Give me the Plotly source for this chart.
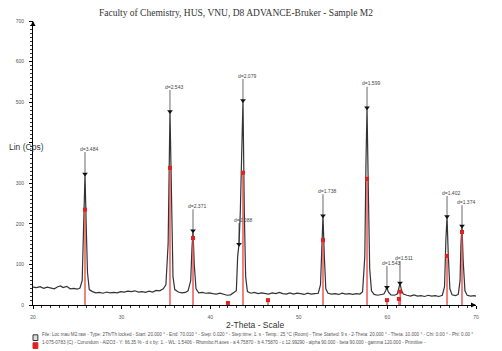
import plotly.graph_objects as go

# ---------------- data ----------------
two_theta = [20.0, 20.4, 20.8, 21.2, 21.6, 22.0, 22.4, 22.8, 23.1, 23.4, 23.8, 24.2, 24.6, 25.0, 25.3,
             25.55, 25.72, 25.87, 26.0, 26.15, 26.35, 26.7, 27.1, 27.5, 27.9, 28.3, 28.7, 29.1, 29.5, 29.9,
             30.3, 30.7, 31.1, 31.5, 31.9, 32.3, 32.7, 33.1, 33.5, 33.9, 34.3, 34.7, 35.0, 35.25, 35.46,
             35.62, 35.8, 36.0, 36.4, 36.8, 37.2, 37.5, 37.8, 37.94, 38.06, 38.2, 38.4, 38.7, 39.1, 39.5,
             39.9, 40.3, 40.7, 41.1, 41.5, 41.9, 42.3, 42.7, 42.95, 43.1, 43.25, 43.4, 43.55, 43.70, 43.85,
             44.0, 44.2, 44.6, 45.0, 45.4, 45.8, 46.2, 46.6, 47.0, 47.4, 47.8, 48.2, 48.6, 49.0, 49.4,
             49.8, 50.2, 50.6, 51.0, 51.4, 51.8, 52.2, 52.45, 52.6, 52.73, 52.88, 53.05, 53.3, 53.7, 54.1,
             54.5, 54.9, 55.3, 55.7, 56.1, 56.5, 56.9, 57.2, 57.45, 57.58, 57.70, 57.85, 58.0, 58.2, 58.5,
             58.9, 59.3, 59.6, 59.8, 59.95, 60.1, 60.4, 60.8, 61.1, 61.28, 61.42, 61.6, 61.8, 62.2, 62.6,
             63.0, 63.4, 63.8, 64.2, 64.6, 65.0, 65.4, 65.8, 66.2, 66.45, 66.6, 66.73, 66.86, 67.05, 67.3,
             67.7, 68.0, 68.2, 68.3, 68.42, 68.55, 68.75, 69.0, 69.4, 69.8, 70.0]
counts = [44, 43, 45, 41, 44, 42, 40, 45, 47, 43, 46, 40, 41, 39, 42,
          60, 190, 323, 200, 80, 38, 33, 30, 31, 29, 32, 30, 31, 30, 33,
          32, 34, 33, 35, 32, 33, 31, 34, 32, 36, 35, 40, 50, 150, 477,
          260, 70, 38, 32, 30, 31, 35, 60, 140, 183, 100, 40, 30, 31, 29,
          30, 28, 27, 29, 26, 24, 25, 30, 35, 120, 150, 230, 420, 504, 230,
          70, 33, 29, 31, 28, 30, 29, 27, 30, 28, 31, 28, 27, 30, 27,
          29, 28, 26, 29, 27, 28, 29, 50, 160, 220, 120, 40, 29, 27, 28,
          26, 29, 27, 28, 26, 28, 27, 33, 120, 350, 486, 280, 90, 35, 26,
          24, 25, 27, 35, 44, 32, 25, 24, 27, 40, 54, 35, 27, 24, 22,
          25, 22, 23, 21, 24, 22, 23, 21, 24, 45, 160, 218, 130, 40, 25,
          23, 26, 60, 150, 195, 110, 35, 24, 22, 23, 22]

peak_pos = [25.87, 35.46, 38.06, 43.25, 43.70, 52.73, 57.70, 59.95, 61.42, 66.73, 68.42]
peak_height = [323, 477, 183, 150, 504, 220, 486, 44, 54, 218, 195]
label_height = [385, 538, 244, 210, 565, 281, 546, 104, 116, 277, 254]
d_labels = ["d=3.484", "d=2.543", "d=2.371", "d=2.088", "d=2.079", "d=1.738",
            "d=1.599", "d=1.543", "d=1.511", "d=1.402", "d=1.374"]

ref_pos = [25.87, 35.46, 38.06, 42.0, 43.70, 46.52, 52.73, 57.70, 59.95, 61.30, 61.45, 66.73, 68.42]
ref_int = [235, 338, 165, 5, 326, 12, 160, 311, 12, 15, 33, 121, 180]

x_range = [20, 70]
y_range = [0, 700]
x_ticks = [20, 30, 40, 50, 60, 70]
y_ticks = [0, 100, 200, 300, 400, 500, 600, 700]
y_tick_text = ["0", "100", "200", "300", "", "500", "600", "700"]  # 400 hidden under "Lin (Cps)"

title_text = "Faculty of Chemistry, HUS, VNU, D8 ADVANCE-Bruker - Sample M2"
legend1 = ("File: Loc mau M2.raw - Type: 2Th/Th locked - Start: 20.000 \u00b0 - End: 70.010 \u00b0 - Step: 0.020 \u00b0 - "
           "Step time: 1. s - Temp.: 25 \u00b0C (Room) - Time Started: 9 s - 2-Theta: 20.000 \u00b0 - Theta: 10.000 \u00b0 - "
           "Chi: 0.00 \u00b0 - Phi: 0.00 \u00b0")
legend2 = ("1-075-0783 (C) - Corundum - Al2O3 - Y: 66.35 % - d x by: 1. - WL: 1.5406 - Rhombo.H.axes - "
           "a 4.75870 - b 4.75870 - c 12.99290 - alpha 90.000 - beta 90.000 - gamma 120.000 - Primitive -")

# ---------------- figure ----------------
fig = go.Figure()

# label leader lines (peak top -> label)
lx, ly = [], []
for p, h, lh in zip(peak_pos, peak_height, label_height):
    lx += [p, p, None]
    ly += [h, lh - 8, None]
fig.add_trace(go.Scatter(x=lx, y=ly, mode="lines", line=dict(color="#444444", width=0.8),
                         hoverinfo="skip", showlegend=False))

# diffractogram
fig.add_trace(go.Scatter(x=two_theta, y=counts, mode="lines",
                         line=dict(color="#333333", width=1.2), showlegend=False))

# reference sticks
rx, ry = [], []
for p, v in zip(ref_pos, ref_int):
    rx += [p, p, None]
    ry += [0, v, None]
fig.add_trace(go.Scatter(x=rx, y=ry, mode="lines", line=dict(color="rgba(235,70,70,0.85)", width=1.6),
                         hoverinfo="skip", showlegend=False))
fig.add_trace(go.Scatter(x=ref_pos, y=ref_int, mode="markers",
                         marker=dict(symbol="square", size=4, color="#e02020"),
                         hoverinfo="skip", showlegend=False))

# peak markers
fig.add_trace(go.Scatter(x=peak_pos, y=peak_height, mode="markers",
                         marker=dict(symbol="triangle-down", size=5, color="#111111"),
                         hoverinfo="skip", showlegend=False))

# d labels
for p, lh, t in zip(peak_pos, label_height, d_labels):
    fig.add_annotation(x=p, y=lh, text=t, showarrow=False, xshift=4,
                       font=dict(family="Liberation Sans", size=5, color="#444444"))

# axis arrows
fig.add_annotation(x=x_range[1], y=y_range[0], ax=-6, ay=0, showarrow=True, arrowhead=2,
                   arrowsize=1, arrowwidth=1, arrowcolor="black", text="")
fig.add_annotation(x=x_range[0], y=y_range[1], ax=0, ay=6, showarrow=True, arrowhead=2,
                   arrowsize=1, arrowwidth=1, arrowcolor="black", text="")

# axis titles
fig.add_annotation(xref="paper", yref="paper", x=-0.058, y=0.555, text="Lin (Cps)", showarrow=False,
                   xanchor="left",
                   font=dict(family="Liberation Sans", size=8.5, color="#333333"))
fig.add_annotation(xref="paper", yref="paper", x=0.5, y=-0.095, text="2-Theta - Scale", showarrow=False,
                   font=dict(family="Liberation Sans", size=8.5, color="#333333"))

# legend lines
fig.add_annotation(xref="paper", yref="paper", x=0.0158, y=-0.12, text=legend1, showarrow=False,
                   xanchor="left", font=dict(family="Liberation Sans", size=4.6, color="#555555"))
fig.add_annotation(xref="paper", yref="paper", x=0.0158, y=-0.148, text=legend2, showarrow=False,
                   xanchor="left", font=dict(family="Liberation Sans", size=4.6, color="#555555"))
fig.add_shape(type="rect", xref="paper", yref="paper", x0=0.0, x1=0.011, y0=-0.125, y1=-0.105,
              line=dict(color="#333333", width=1), fillcolor="#dddddd")
fig.add_shape(type="rect", xref="paper", yref="paper", x0=0.0, x1=0.011, y0=-0.153, y1=-0.133,
              line=dict(color="#e02020", width=1), fillcolor="#e02020")

fig.update_layout(
    width=502, height=351,
    margin=dict(l=33, r=26, t=21, b=46),
    paper_bgcolor="white", plot_bgcolor="white",
    title=dict(text=title_text, x=0.47, xanchor="center", y=0.965, yanchor="middle",
               font=dict(family="Liberation Serif", size=9.5, color="#333333")),
    showlegend=False,
)
fig.update_xaxes(range=x_range, tickvals=x_ticks, showgrid=False, zeroline=False,
                 showline=True, linecolor="black", linewidth=1,
                 ticks="outside", ticklen=3, tickcolor="black", ticklabelstandoff=4,
                 minor=dict(dtick=1, ticks="outside", ticklen=2, tickcolor="#333333"),
                 tickfont=dict(family="Liberation Sans", size=5, color="#555555"))
fig.update_yaxes(range=y_range, tickvals=y_ticks, ticktext=y_tick_text, showgrid=False, zeroline=False,
                 showline=True, linecolor="black", linewidth=1,
                 ticks="outside", ticklen=3, tickcolor="black", ticklabelstandoff=4,
                 minor=dict(dtick=10, ticks="outside", ticklen=2, tickcolor="#333333"),
                 tickfont=dict(family="Liberation Sans", size=5, color="#555555"))

fig.write_html("out.html")
